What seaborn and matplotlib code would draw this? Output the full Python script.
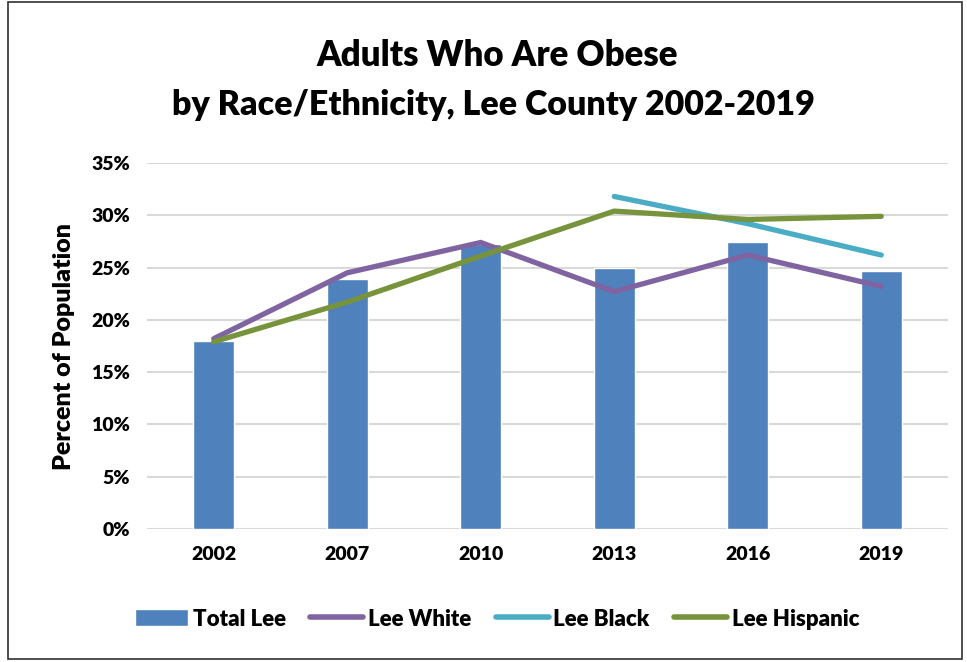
import numpy as np
import pandas as pd
import matplotlib.pyplot as plt
import seaborn as sns
from matplotlib.patches import Patch, Rectangle
from matplotlib.lines import Line2D
from matplotlib.ticker import PercentFormatter

# data (percent)
years = ['2002', '2007', '2010', '2013', '2016', '2019']
total_lee = [18.0, 23.9, 27.3, 25.0, 27.4, 24.7]
lee_white = [18.2, 24.5, 27.4, 22.7, 26.2, 23.2]
lee_black = [np.nan, np.nan, np.nan, 31.8, 29.2, 26.2]
lee_hispanic = [17.9, 21.7, 26.1, 30.4, 29.6, 29.9]

series_names = ['Lee White', 'Lee Black', 'Lee Hispanic']
series_colors = ['#8064A2', '#4BACC6', '#77933C']
bar_color = '#4F81BD'

sns.set_theme(style='white')
plt.rcParams['font.family'] = ['Lato', 'DejaVu Sans']
plt.rcParams['text.color'] = 'black'
plt.rcParams['xtick.color'] = 'black'
plt.rcParams['ytick.color'] = 'black'
plt.rcParams['axes.labelcolor'] = 'black'
wt = 'heavy'

bars = pd.DataFrame({'year': years, 'value': total_lee})
lines = pd.DataFrame({
    'year': years * 3,
    'value': lee_white + lee_black + lee_hispanic,
    'group': [n for n in series_names for _ in years],
})

fig = plt.figure(figsize=(9.67, 6.62), dpi=100)
ax = fig.add_axes([147 / 967, 1 - 529 / 662, 801 / 967, 366 / 662])

sns.barplot(data=bars, x='year', y='value', order=years, color=bar_color,
            width=0.31, saturation=1, ax=ax)

for name, col in zip(series_names, series_colors):
    sub = lines[lines['group'] == name].dropna()
    sns.pointplot(data=sub, x='year', y='value', order=years, color=col,
                  markers='', errorbar=None, linewidth=3.8, ax=ax)
for ln in ax.lines:
    ln.set_solid_capstyle('round')
    ln.set_solid_joinstyle('miter')

ax.set_xlim(-0.5, 5.5)
ax.set_ylim(0, 35)
ax.set_yticks(np.arange(0, 36, 5))
ax.yaxis.set_major_formatter(PercentFormatter(decimals=0))
ax.grid(axis='y', color='#D9D9D9', linewidth=1.5)
ax.set_axisbelow(True)
sns.despine(ax=ax, left=True, bottom=True)
ax.tick_params(axis='both', length=0, labelsize=14, pad=12)
for lab in ax.get_xticklabels() + ax.get_yticklabels():
    lab.set_fontweight(wt)
ax.set_xlabel('')
ax.set_ylabel('Percent of Population', fontsize=18, fontweight=wt, labelpad=12)

fig.text(0.514, 1 - 55 / 662, 'Adults Who Are Obese', ha='center', va='center',
         fontsize=25, fontweight=wt)
fig.text(0.510, 1 - 105 / 662, 'by Race/Ethnicity, Lee County 2002-2019',
         ha='center', va='center', fontsize=24.5, fontweight=wt)

handles = [Patch(facecolor=bar_color, label='Total Lee')]
for name, col in zip(series_names, series_colors):
    handles.append(Line2D([0], [0], color=col, lw=4, solid_capstyle='round', label=name))
leg = fig.legend(handles=handles, loc='center', bbox_to_anchor=(0.514, 1 - 619 / 662),
                 ncol=4, frameon=False, fontsize=16, handlelength=2.4,
                 handleheight=0.8, handletextpad=0.2, columnspacing=1.1)
for t in leg.get_texts():
    t.set_fontweight(wt)

fig.patches.append(Rectangle((8 / 967, 0.004), 0.995 - 8 / 967, 0.993,
                             transform=fig.transFigure, fill=False,
                             edgecolor='#303030', linewidth=1.2))

fig.savefig('out.png', dpi=100)
